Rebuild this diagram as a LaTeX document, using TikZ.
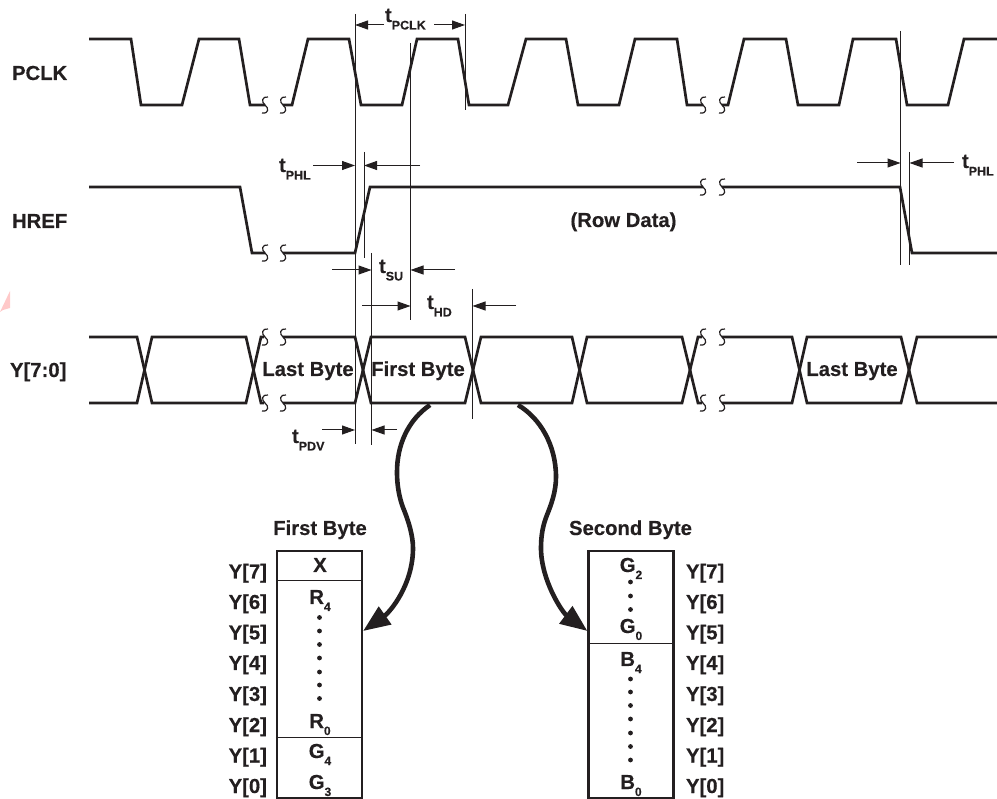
\documentclass[tikz,border=0pt]{standalone}
\usepackage{fontspec}
\setmainfont[BoldFeatures={FakeBold=0.35}]{Liberation Sans}
\usetikzlibrary{arrows.meta,positioning}

\definecolor{inkblack}{HTML}{231F20}
\definecolor{markpink}{HTML}{FFC9C9}

\tikzset{
  wave/.style={draw=inkblack,line width=2.7pt,line join=miter},
  guide/.style={draw=inkblack,line width=1pt},
  brk/.style={draw=inkblack,line width=1.2pt},
  dimarrow/.style={draw=inkblack,line width=1pt,-{Triangle[length=13pt,width=9pt]}},
  bigarrow/.style={draw=inkblack,line width=4.6pt,-{Triangle[length=27pt,width=21pt]}},
  lbl/.style={inner sep=0pt,outer sep=0pt,text=inkblack,font=\fontsize{20.3}{24}\selectfont\bfseries},
  regbox/.style={shape=rectangle,draw=inkblack,line width=2.2pt,minimum width=85pt,minimum height=247pt,inner sep=0pt}
}

\newcommand{\timelbl}[1]{t\raisebox{-7.5pt}{\fontsize{12.5}{14}\selectfont #1}}
\newcommand{\regbit}[2]{#1\raisebox{-7pt}{\fontsize{12}{14}\selectfont #2}}
\newcommand{\brkmark}[2]{\draw [brk] (#1+3,#2-8) .. controls (#1-3,#2-9) and (#1-4,#2-3) .. (#1,#2) .. controls (#1+4,#2+3) and (#1+4,#2+9) .. (#1-3,#2+8);}

\begin{document}
\begin{tikzpicture}[x=1pt,y=-1pt]
\useasboundingbox (0,0) rectangle (997,799);

\fill [markpink] (0,312) -- (10,291) -- (10,308) -- (3,310) -- cycle;

% Signal names
\node [lbl,anchor=base west] at (12,80) (pclk) {PCLK};
\node [lbl,anchor=base west] at (12,228) (href) {HREF};
\node [lbl,anchor=base west] at (10,377) (ydata) {Y[7:0]};

% PCLK row
\draw [wave] (89,39) -- (131,39) -- (141,105) -- (182,105) -- (199,39) -- (239,39) -- (250,105) -- (265,105);
\draw [wave] (283,105) -- (292,105) -- (308,39) -- (349,39) -- (361,105) -- (402,105) -- (417,39) -- (458,39) -- (469,105) -- (508,105) -- (526,39) -- (566,39) -- (578,105) -- (619,105) -- (635,39) -- (677,39) -- (687,105) -- (703,105);
\draw [wave] (722,105) -- (728,105) -- (744,39) -- (786,39) -- (798,105) -- (839,105) -- (853,39) -- (896,39) -- (907,105) -- (948,105) -- (964,39) -- (997,39);

% HREF row
\draw [wave] (89,187) -- (240,187) -- (252,253) -- (265,253);
\draw [wave] (283,253) -- (355,253) -- (370,187) -- (703,187);
\draw [wave] (722,187) -- (900,187) -- (912,253) -- (997,253);

% Y row
\draw [wave] (89,337) -- (137,337) -- (152,403) -- (246,403) -- (261,337) -- (264,337);
\draw [wave] (89,403) -- (137,403) -- (152,337) -- (246,337) -- (261,403) -- (264,403);
\draw [wave] (283,337) -- (355,337) -- (371,403) -- (465,403) -- (481,337) -- (572,337) -- (587,403) -- (682,403) -- (698,337) -- (702,337);
\draw [wave] (283,403) -- (355,403) -- (371,337) -- (465,337) -- (481,403) -- (572,403) -- (587,337) -- (682,337) -- (698,403) -- (702,403);
\draw [wave] (722,337) -- (792,337) -- (807,403) -- (901,403) -- (917,337) -- (997,337);
\draw [wave] (722,403) -- (792,403) -- (807,337) -- (901,337) -- (917,403) -- (997,403);

% Breaks
\brkmark{265}{105} \brkmark{283}{105}
\brkmark{703}{105} \brkmark{722}{105}
\brkmark{265}{253} \brkmark{283}{253}
\brkmark{703}{187} \brkmark{722}{187}
\brkmark{265}{337} \brkmark{283}{337}
\brkmark{265}{403} \brkmark{283}{403}
\brkmark{703}{337} \brkmark{722}{337}
\brkmark{703}{403} \brkmark{722}{403}

% Guide lines
\draw [guide] (355,14) -- (355,444);
\draw [guide] (364,152) -- (364,258);
\draw [guide] (371.5,253) -- (371.5,445);
\draw [guide] (410.5,43) -- (410.5,320);
\draw [guide] (465,14) -- (465,110);
\draw [guide] (472.5,289) -- (472.5,419);
\draw [guide] (900.5,31) -- (900.5,265);
\draw [guide] (909.5,152) -- (909.5,265);

% Timing labels
\node [lbl,anchor=base west] at (385,22) (tpclk) {\timelbl{PCLK}};
\node [lbl,anchor=base west] at (279,172) (tphl_left) {\timelbl{PHL}};
\node [lbl,anchor=base west] at (962,168) (tphl_right) {\timelbl{PHL}};
\node [lbl,anchor=base west] at (379,273) (tsu) {\timelbl{SU}};
\node [lbl,anchor=base west] at (427,309) (thd) {\timelbl{HD}};
\node [lbl,anchor=base west] at (292,443) (tpdv) {\timelbl{PDV}};

% Timing arrows
\draw [dimarrow] (384,25) -- (355,25);
\draw [dimarrow] (434,25) -- (465,25);
\draw [dimarrow] (313,165.5) -- (355,165.5);
\draw [dimarrow] (420,165.5) -- (364,165.5);
\draw [dimarrow] (857,163) -- (900.5,163);
\draw [dimarrow] (954,163) -- (909.5,163);
\draw [dimarrow] (332,270) -- (371.5,270);
\draw [dimarrow] (455,270) -- (410.5,270);
\draw [dimarrow] (362,306) -- (410.5,306);
\draw [dimarrow] (516,306) -- (472.5,306);
\draw [dimarrow] (322,430) -- (355,430);
\draw [dimarrow] (397,430) -- (371.5,430);

% Text on the rows
\node [lbl,anchor=base] at (308,376) (last_a) {Last Byte};
\node [lbl,anchor=base] at (418,376) (first_a) {First Byte};
\node [lbl,anchor=base] at (852,376) (last_b) {Last Byte};
\node [lbl,anchor=base] at (623.5,227) (rowdata) {(Row Data)};

% First byte register
\node [lbl,anchor=base] at (320,535) (first_title) {First Byte};
\node [regbox] at (319.5,674.5) (first_reg) {};
\draw [guide] (first_reg.west |- 0,581) -- (first_reg.east |- 0,581);
\draw [guide] (first_reg.west |- 0,737) -- (first_reg.east |- 0,737);
\node [lbl,anchor=base] at (320,572) (bit_x) {X};
\node [lbl,anchor=base] at (320,604) (bit_r4) {\regbit{R}{4}};
\node [lbl,anchor=base] at (320,728) (bit_r0) {\regbit{R}{0}};
\node [lbl,anchor=base] at (320,758) (bit_g4) {\regbit{G}{4}};
\node [lbl,anchor=base] at (320,789) (bit_g3) {\regbit{G}{3}};
\fill [inkblack] (319.5,617.5) circle (2.4) (319.5,631) circle (2.4) (319.5,644.5) circle (2.4) (319.5,658) circle (2.4) (319.5,672) circle (2.4) (319.5,685) circle (2.4) (319.5,698.5) circle (2.4);

\node [lbl,anchor=base east] at (267,578.5) (fy7) {Y[7]};
\node [lbl,anchor=base east] at (267,609) (fy6) {Y[6]};
\node [lbl,anchor=base east] at (267,639.5) (fy5) {Y[5]};
\node [lbl,anchor=base east] at (267,670) (fy4) {Y[4]};
\node [lbl,anchor=base east] at (267,701) (fy3) {Y[3]};
\node [lbl,anchor=base east] at (267,732) (fy2) {Y[2]};
\node [lbl,anchor=base east] at (267,762.5) (fy1) {Y[1]};
\node [lbl,anchor=base east] at (267,793) (fy0) {Y[0]};

% Second byte register
\node [lbl,anchor=base] at (630.5,535) (second_title) {Second Byte};
\node [regbox] at (631,674.5) (second_reg) {};
\draw [guide] (second_reg.west |- 0,643) -- (second_reg.east |- 0,643);
\node [lbl,anchor=base] at (631,572) (bit_g2) {\regbit{G}{2}};
\node [lbl,anchor=base] at (631,633) (bit_g0) {\regbit{G}{0}};
\node [lbl,anchor=base] at (631,666) (bit_b4) {\regbit{B}{4}};
\node [lbl,anchor=base] at (631,789) (bit_b0) {\regbit{B}{0}};
\fill [inkblack] (630.5,582) circle (2.4) (630.5,596) circle (2.4) (630.5,609.5) circle (2.4);
\fill [inkblack] (630.5,679) circle (2.4) (630.5,692) circle (2.4) (630.5,705.5) circle (2.4) (630.5,719) circle (2.4) (630.5,733) circle (2.4) (630.5,746.5) circle (2.4) (630.5,760) circle (2.4);

\node [lbl,anchor=base west] at (686,578.5) (sy7) {Y[7]};
\node [lbl,anchor=base west] at (686,609) (sy6) {Y[6]};
\node [lbl,anchor=base west] at (686,639.5) (sy5) {Y[5]};
\node [lbl,anchor=base west] at (686,670) (sy4) {Y[4]};
\node [lbl,anchor=base west] at (686,701) (sy3) {Y[3]};
\node [lbl,anchor=base west] at (686,732) (sy2) {Y[2]};
\node [lbl,anchor=base west] at (686,762.5) (sy1) {Y[1]};
\node [lbl,anchor=base west] at (686,793) (sy0) {Y[0]};

% Curved arrows down to the registers
\coordinate (first_from) at (430,405);
\coordinate (first_to) at (first_reg.east |- 0,631);
\coordinate (second_from) at (518,405);
\coordinate (second_to) at (second_reg.west |- 0,631);
\draw [bigarrow] (first_from) .. controls (408,420) and (397,445) .. (397,472) .. controls (397,490) and (401,503) .. (404,510) .. controls (408,520) and (413,535) .. (413,548) .. controls (413,585) and (390,612) .. (first_to);
\draw [bigarrow] (second_from) .. controls (540,418) and (556,445) .. (556,477) .. controls (556,492) and (551,505) .. (547,515) .. controls (543,525) and (541,535) .. (541,548) .. controls (541,580) and (562,612) .. (second_to);

\end{tikzpicture}
\end{document}
